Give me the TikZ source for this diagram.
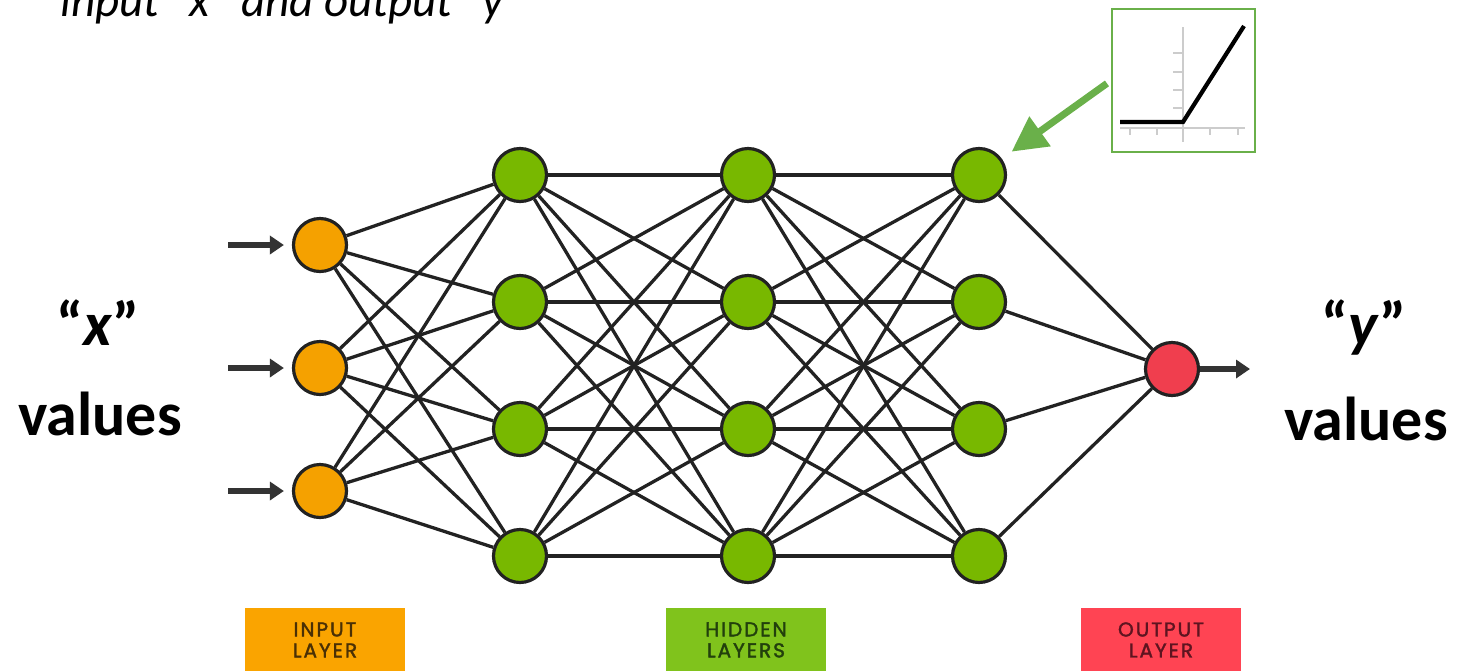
\documentclass[tikz,border=0pt]{standalone}
\usepackage{fontspec}
\setmainfont{Carlito}
\newfontfamily\layerfont{Poppins}[LetterSpace=10,FakeBold=1.8]
\usetikzlibrary{arrows.meta,backgrounds}

\definecolor{edgecol}{HTML}{222222}
\definecolor{feedcol}{HTML}{333333}
\definecolor{inorange}{HTML}{F5A100}
\definecolor{hidgreen}{HTML}{78B800}
\definecolor{outred}{HTML}{F03E4E}
\definecolor{boxorange}{HTML}{FAA400}
\definecolor{boxgreen}{HTML}{80C31C}
\definecolor{boxred}{HTML}{FF4453}
\definecolor{txtorange}{HTML}{4A3005}
\definecolor{txtgreen}{HTML}{22400C}
\definecolor{txtred}{HTML}{5E1420}
\definecolor{relugreen}{HTML}{6AB04A}
\definecolor{axisgray}{HTML}{CCCCCC}

\begin{document}
\begin{tikzpicture}[x=0.5pt,y=-0.5pt,
  neuron/.style={circle,draw=edgecol,line width=1.6pt,minimum size=26.5pt,inner sep=0pt},
  inneuron/.style={neuron,fill=inorange},
  hidneuron/.style={neuron,fill=hidgreen},
  outneuron/.style={neuron,fill=outred},
  link/.style={draw=edgecol,line width=1.65pt},
  feed/.style={draw=feedcol,line width=2.6pt,-{Triangle[length=7pt,width=9pt]}},
  layerbox/.style={anchor=north,minimum width=80pt,minimum height=31.5pt,inner sep=0pt,
    align=center,font=\layerfont\fontsize{10}{10.5}\selectfont},
  biglabel/.style={anchor=base,font=\bfseries\fontsize{31}{37}\selectfont},
  axis/.style={draw=axisgray,line width=0.8pt}]

\useasboundingbox (0,0) rectangle (1462,671);

% heading (its upper part runs past the top edge)
\node[anchor=base west,inner sep=0pt,font=\itshape\fontsize{23.5}{28}\selectfont]
  (title) at (60,16) {input “x” and output “y”};

% input layer
\foreach \k/\y in {1/245,2/368,3/491}
  \node[inneuron] (i\k) at (320,\y) {};

% hidden layers
\foreach \k/\y in {1/175,2/302,3/429,4/556} {
  \node[hidneuron] (a\k) at (520,\y) {};
  \node[hidneuron] (b\k) at (748,\y) {};
  \node[hidneuron] (c\k) at (979,\y) {};
}

% output layer
\node[outneuron] (o) at (1172,369) {};

% weights
\begin{scope}[on background layer]
  \foreach \s in {1,2,3}
    \foreach \t in {1,2,3,4}
      \draw[link] (i\s) -- (a\t);
  \foreach \s in {1,2,3,4}
    \foreach \t in {1,2,3,4} {
      \draw[link] (a\s) -- (b\t);
      \draw[link] (b\s) -- (c\t);
    }
  \foreach \s in {1,2,3,4}
    \draw[link] (c\s) -- (o);
\end{scope}

% input and output arrows
\foreach \k/\y in {1/245,2/368,3/491} {
  \coordinate (src\k) at (228,\y);
  \draw[feed,shorten >=4pt] (src\k) -- (i\k);
}
\coordinate (sink) at (1250,369);
\draw[feed] (o) -- (sink);

% side labels
\node[biglabel] (xq) at (98,345) {“\textit{x}”};
\node[biglabel] (xv) at (100,435) {values};
\node[biglabel] (yq) at (1364,345) {“\textit{y}”};
\node[biglabel] (yv) at (1366,440) {values};

% layer captions
\node[layerbox,fill=boxorange,text=txtorange] (inbox) at (325,608) {INPUT\\LAYER};
\node[layerbox,fill=boxgreen,text=txtgreen] (hidbox) at (746,608) {HIDDEN\\LAYERS};
\node[layerbox,fill=boxred,text=txtred] (outbox) at (1161,608) {OUTPUT\\LAYER};

% activation inset (ReLU)
\node[draw=relugreen,line width=1pt,fill=white,minimum width=71.5pt,minimum height=71.5pt,inner sep=0pt]
  (relu) at (1183.5,80.5) {};
\draw[axis] (1120,128) -- (1245,128);
\draw[axis] (1183,27) -- (1183,142);
\foreach \x in {1130,1157,1210,1238}
  \draw[axis] (\x,128) -- (\x,135);
\foreach \y in {53,72,90,108}
  \draw[axis] (1183,\y) -- (1173,\y);
\draw[black,line width=2.1pt,line join=miter] (1120,122) -- (1183,122) -- (1244,26);

% pointer from inset to the neuron
\draw[draw=relugreen,line width=3.5pt,shorten <=2.5pt,shorten >=6pt,
  -{Triangle[length=17.5pt,width=17.5pt]}] (relu.west) -- (c1);

\end{tikzpicture}
\end{document}
